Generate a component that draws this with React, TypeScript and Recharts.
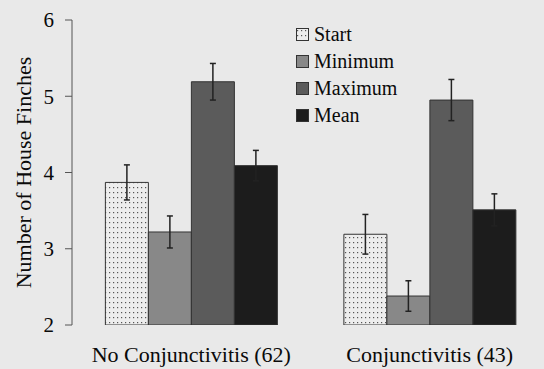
import { BarChart, Bar, XAxis, YAxis, ErrorBar, Label } from 'recharts'

const groups = ['No Conjunctivitis (62)', 'Conjunctivitis (43)']
const seriesNames = ['Start', 'Minimum', 'Maximum', 'Mean']
const startValues = [3.87, 3.19]
const startErr = [0.23, 0.26]
const minimumValues = [3.22, 2.38]
const minimumErr = [0.21, 0.2]
const maximumValues = [5.19, 4.95]
const maximumErr = [0.24, 0.27]
const meanValues = [4.09, 3.51]
const meanErr = [0.2, 0.21]
const yTicks = [2, 3, 4, 5, 6]
const groupEdges = [0, 1, 2]

const fills: Record<string, string> = {
  Start: 'url(#dots)',
  Minimum: '#888888',
  Maximum: '#5b5b5b',
  Mean: '#1c1c1c',
}

const data = groups.map((g, i) => ({
  group: g,
  idx: i + 0.5,
  Start: startValues[i],
  StartErr: startErr[i],
  Minimum: minimumValues[i],
  MinimumErr: minimumErr[i],
  Maximum: maximumValues[i],
  MaximumErr: maximumErr[i],
  Mean: meanValues[i],
  MeanErr: meanErr[i],
}))

const font = '"Liberation Serif", "Times New Roman", serif'

function LegendBox() {
  return (
    <div
      style={{
        position: 'absolute',
        left: 296,
        top: 21,
        fontFamily: font,
        fontSize: 20,
        color: '#0a0a0a',
        lineHeight: '27px',
      }}
    >
      {seriesNames.map((name) => (
        <div key={name} style={{ display: 'flex', alignItems: 'center' }}>
          <svg width={13} height={13} style={{ marginRight: 5 }}>
            <rect x={0.5} y={0.5} width={12} height={12} fill={fills[name]} stroke="#333" />
          </svg>
          <span>{name}</span>
        </div>
      ))}
    </div>
  )
}

export default function App() {
  return (
    <div
      style={{
        position: 'absolute',
        left: 0,
        top: 0,
        width: 544,
        height: 369,
        overflow: 'hidden',
        background: '#e9e9e9',
      }}
    >
      <BarChart
        width={549}
        height={369}
        data={data}
        margin={{ top: 20, right: 0, bottom: 0, left: 0 }}
        barCategoryGap="14%"
        barGap={0}
      >
        <defs>
          <pattern id="dots" width={4} height={5} patternUnits="userSpaceOnUse">
            <rect width={4} height={5} fill="#ededed" />
            <rect x={1} y={2} width={1.2} height={1.2} fill="#555" />
          </pattern>
        </defs>
        <XAxis
          xAxisId="sep"
          type="number"
          dataKey="idx"
          domain={[0, 2]}
          ticks={groupEdges}
          tick={false}
          height={0}
          tickSize={6}
          stroke="#555"
          allowDataOverflow
        />
        <XAxis
          dataKey="group"
          axisLine={false}
          tickLine={false}
          height={44}
          tickMargin={15}
          tick={{ fill: '#0a0a0a', fontSize: 22, fontFamily: font }}
          interval={0}
        />
        <YAxis
          domain={[2, 6]}
          ticks={yTicks}
          width={72}
          tickSize={7}
          tickMargin={11}
          stroke="#555"
          tick={{ fill: '#0a0a0a', fontSize: 21, fontFamily: font }}
          allowDataOverflow
        >
          <Label
            value="Number of House Finches"
            angle={-90}
            position="center"
            dx={-13}
            style={{ fill: '#0a0a0a', fontSize: 22, fontFamily: font }}
          />
        </YAxis>
        {seriesNames.map((name) => (
          <Bar
            key={name}
            dataKey={name}
            fill={fills[name]}
            stroke="#333"
            strokeWidth={1}
            isAnimationActive={false}
          >
            <ErrorBar dataKey={`${name}Err`} width={3} stroke="#222" strokeWidth={1.5} />
          </Bar>
        ))}
      </BarChart>
      <LegendBox />
    </div>
  )
}
